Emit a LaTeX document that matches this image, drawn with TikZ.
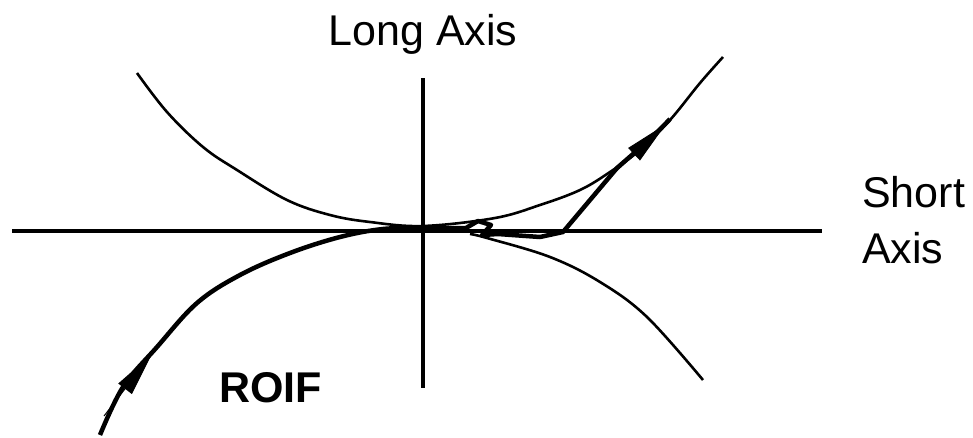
\documentclass[tikz,border=0pt]{standalone}
\usepackage{fontspec}
\setmainfont{Liberation Sans}
\usepackage{tikz}
\usetikzlibrary{arrows.meta, positioning, calc}

\begin{document}
\begin{tikzpicture}[
    x=1pt, y=-1pt,
    axisline/.style={line width=4pt, black},
    branch/.style={line width=2.6pt, black},
    traj/.style={line width=4.5pt, black, line join=round},
    headtip/.style={line width=1pt, -{Triangle[length=44pt, width=17pt]}},
    lbl/.style={inner sep=0pt, font=\fontsize{43}{50}\selectfont},
]
    \useasboundingbox (0,0) rectangle (973,437);

    % axes
    \coordinate (hleft) at (12,231);
    \coordinate (hright) at (822,231);
    \coordinate (vtop) at (423,78);
    \coordinate (vbot) at (423,388);
    \draw[axisline] (hleft) -- (hright);
    \draw[axisline] (vtop) -- (vbot);

    % hyperbola branches
    \draw[branch] plot[smooth, tension=0.6] coordinates {
        (137,73) (167,112) (203,147) (237,170) (287,200) (330,215)
        (370,222) (423,226) (495,218) (540,205) (580,190) (610,172)
        (640,150) (670,120) (700,83) (723,57)};
    \draw[branch] plot[smooth, tension=0.6] coordinates {
        (470,234) (487,238) (550,257) (600,282) (647,317) (703,380)};

    % the path itself
    \draw[traj] plot[smooth, tension=0.6] coordinates {
        (100,435) (123,387) (157,347) (197,303) (240,275) (290,253)
        (340,237) (383,229) (423,228)}
        -- (466,228) -- (478,221) -- (491,225) -- (482,235)
        -- (498,234) -- (540,237) -- (563,232) -- (617,168)
        .. controls (640,148) and (655,135) .. (670,119);

    % arrow heads
    \coordinate (lowtail) at (104,416);
    \coordinate (lowtip) at (152,354);
    \coordinate (uptail) at (610,177);
    \coordinate (uptip) at (666,124);
    \draw[headtip] (lowtail) -- (lowtip);
    \draw[headtip] (uptail) -- (uptip);

    % labels
    \node[lbl, anchor=base] (longlbl) at (423,45) {Long Axis};
    \node[lbl, anchor=base west] (shortlbl) at (862,207) {Short};
    \node[lbl, anchor=base west] (axislbl) at (862,263) {Axis};
    \node[lbl, anchor=base west, font=\fontsize{43}{50}\selectfont\bfseries] (roiflbl) at (219,402) {ROIF};
\end{tikzpicture}
\end{document}
